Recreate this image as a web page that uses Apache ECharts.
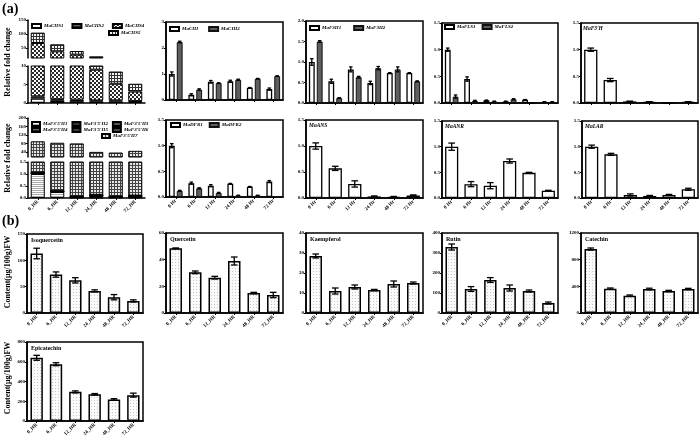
<!DOCTYPE html>
<html><head><meta charset="utf-8">
<script src="https://cdn.jsdelivr.net/npm/echarts@6/dist/echarts.min.js"></script>
<style>html,body{margin:0;padding:0;background:#fff}#c{width:700px;height:442px}</style>
</head><body><div id="c"></div>
<script>
// ---------- data ----------
const hoursUS = ['0_HR','6_HR','12_HR','24_HR','48_HR','72_HR'];
const hoursSp = ['0 Hr','6 Hr','12 Hr','24 Hr','48 Hr','72 Hr'];
// (a) CHS stacked (broken axis)
const chs1 = [1.2,0.7,0.5,0.4,0.4,0.3];
const chs2 = [0.6,0.3,0.4,0.3,0.3,0.2];
const chs4 = [66,37,25,8.3,4.5,2.6];
const chs5 = [37,25,13,11,3.3,2.1];
const chsUpperTicks = [50,100,150];
// (a) F3'5'H stacked (broken axis)
const f35h1 = [1.0,0.25,0.02,0.02,0.02,0.02];
const f35h2 = [0.02,0.01,0.01,0.07,0.01,0.04];
const f35h3 = [0.01,0.01,0.01,0.01,0.01,0.01];
const f35h4 = [0.01,0.01,0.01,0.01,0.01,0.01];
const f35h5 = [0.01,0.01,0.01,0.01,0.01,0.01];
const f35h6 = [0.01,0.01,0.01,0.01,0.01,0.01];
const f35h7 = [89,83,80,40,37,45];
const f35hUpperTicks = [40,80,120,160,200];
// (a) grouped
const chi = [1.0,0.2,0.7,0.72,0.47,0.42], chiErr = [0.08,0.04,0.05,0.04,0.01,0.04];
const chi2 = [2.23,0.4,0.65,0.78,0.82,0.92], chi2Err = [0.03,0.03,0.01,0.02,0.01,0.01];
const f3h1 = [1.0,0.53,0.82,0.49,0.73,0.73], f3h1Err = [0.08,0.05,0.06,0.04,0.01,0.01];
const f3h2 = [1.5,0.12,0.63,0.85,0.82,0.53], f3h2Err = [0.02,0.01,0.02,0.04,0.06,0.01];
const fls1 = [1.0,0.45,0.05,0.03,0.06,0.02], fls1Err = [0.03,0.04,0.005,0.005,0.005,0.005];
const fls2 = [0.12,0.04,0.03,0.07,0.005,0.02], fls2Err = [0.03,0.01,0.005,0.01,0.002,0.005];
const dfr1 = [1.0,0.27,0.22,0.26,0.2,0.3], dfr1Err = [0.04,0.02,0.02,0.005,0.005,0.02];
const dfr2 = [0.12,0.17,0.08,0.03,0.03,0.0], dfr2Err = [0.01,0.01,0.01,0.005,0.005,0];
// (a) single
const f3h = [1.0,0.43,0.03,0.02,0.005,0.02], f3hErr = [0.03,0.03,0.005,0.005,0.002,0.005];
const ans = [1.0,0.57,0.27,0.03,0.02,0.05], ansErr = [0.06,0.04,0.06,0.01,0.01,0.01];
const anr = [1.0,0.27,0.24,0.72,0.49,0.14], anrErr = [0.07,0.05,0.06,0.04,0.01,0.01];
const lar = [1.0,0.85,0.06,0.04,0.06,0.17], larErr = [0.03,0.02,0.02,0.01,0.01,0.02];
// (b) metabolites
const isoq = [113,73,62,42,30,23], isoqErr = [10,5,5,2,5,2];
const quer = [48.5,30.5,26.5,39,15,13.5], querErr = [0.3,1,1,3,0.5,2];
const kaem = [28.5,11,13,11.5,14.5,15], kaemErr = [1,1.5,1,0.3,1.5,0.5];
const rutin = [330,120,165,125,110,50], rutinErr = [15,12,12,15,5,5];
const catech = [960,365,260,360,330,360], catechErr = [15,10,10,12,10,10];
const epicat = [640,575,295,270,218,262], epicatErr = [25,15,10,8,8,20];

// ---------- patterns ----------
function pat(w,h,bg,fg,cells){const c=document.createElement('canvas');c.width=w;c.height=h;const x=c.getContext('2d');x.fillStyle=bg;x.fillRect(0,0,w,h);x.fillStyle=fg;cells.forEach(p=>x.fillRect(p[0],p[1],p[2]||1,p[3]||1));return {image:c,repeat:'repeat'};}
const checker = pat(4,4,'#fff','#2a2a2a',[[0,0,2,2],[2,2,2,2]]);
const gridPat = pat(3,3,'#f4f4f4','#333',[[0,0,3,1],[0,0,1,3]]);
const fineGrid = pat(3,3,'#e8e8e8','#444',[[0,0,3,1],[0,0,1,3]]);
const stripes = pat(2,2,'#666','#222',[[0,0,2,1]]);
const stipple = pat(3,3,'#fafafa','#c8c8c8',[[1,1]]);
const lightLines = pat(2,2,'#fff','#aaa',[[0,0,2,1]]);

const SERIF = '"Liberation Serif","DejaVu Serif",serif';
const grids=[], xAxes=[], yAxes=[], series=[], legends=[], graphics=[];

function addGrid(g, cats, opt){
  const i = grids.length;
  grids.push({left:g[0], top:g[1], width:g[2], height:g[3], show:!!opt.box, borderColor:'#000', borderWidth:1.5, containLabel:false});
  xAxes.push({type:'category', gridIndex:i, data:cats,
    axisLine:{show:opt.xline!==false, onZero:false, lineStyle:{color:'#000', width:1.5}},
    axisTick:{show:opt.xline!==false, alignWithLabel:true, length:2, lineStyle:{color:'#000', width:1}},
    axisLabel:{show:!!opt.xlabels, rotate:45, fontSize:5, fontWeight:'bold', fontFamily:SERIF, color:'#000', margin:3, interval:0}});
  const y = {type:'value', gridIndex:i, min:opt.min, max:opt.max,
    axisLine:{show:true, lineStyle:{color:'#000', width:1.5}},
    axisTick:{show:true, length:2, lineStyle:{color:'#000', width:1}},
    splitLine:{show:false},
    axisLabel:{fontSize:5, fontWeight:'bold', fontFamily:SERIF, color:'#000', margin:2, formatter:opt.fmt||(v=>String(v))}};
  if (opt.custom){ y.axisLabel.customValues = opt.custom; y.axisTick.customValues = opt.custom; }
  else y.interval = opt.interval;
  yAxes.push(y);
  return i;
}
function bar(gi, name, data, style, extra){
  return Object.assign({type:'bar', name:name, xAxisIndex:gi, yAxisIndex:gi, data:data, itemStyle:style, animation:false}, extra||{});
}
function err(gi, vals, errs, off, cap){
  return {type:'custom', xAxisIndex:gi, yAxisIndex:gi, z:10, silent:true, animation:false, encode:{x:0,y:1},
    data: vals.map((v,i)=>[i,v,errs[i]]),
    renderItem:function(params, api){
      const i=api.value(0), v=api.value(1), e=api.value(2);
      if(!(e>0)) return null;
      const band=api.size([1,0])[0];
      const cx=api.coord([i,v])[0]+off*band;
      const y1=api.coord([i,v+e])[1], y2=api.coord([i,v-e])[1];
      const hw=band*cap, st={stroke:'#000', lineWidth:1.3};
      return {type:'group', children:[
        {type:'line', shape:{x1:cx,y1:y1,x2:cx,y2:y2}, style:st},
        {type:'line', shape:{x1:cx-hw,y1:y1,x2:cx+hw,y2:y1}, style:st},
        {type:'line', shape:{x1:cx-hw,y1:y2,x2:cx+hw,y2:y2}, style:st}]};
    }};
}
const f1 = v=>v.toFixed(1);
const whiteS = {color:'#fff', borderColor:'#000', borderWidth:1.3};
const darkS = {color:'#5e5e5e', borderColor:'#111', borderWidth:1};
const lightS = {color:stipple, borderColor:'#000', borderWidth:1.5};

// ---------- (a) row 1 ----------
const gCu = addGrid([28,20,117,38], hoursUS, {min:14, max:150, custom:chsUpperTicks, xline:false});
const gCl = addGrid([28,66,117,37], hoursUS, {min:0, max:10, interval:5});
const chsStyles = [whiteS, {color:stripes, borderColor:'#000', borderWidth:1}, {color:checker, borderColor:'#000', borderWidth:1}, {color:gridPat, borderColor:'#000', borderWidth:1}];
const chsNames = ['MaCHS1','MaCHS2','MaCHS4','MaCHS5'];
[chs1,chs2,chs4,chs5].forEach((d,k)=>{
  [gCu,gCl].forEach(g=>series.push(bar(g, chsNames[k], d, chsStyles[k], {stack:'s'+g, barWidth:'72%'})));
});
const gChi = addGrid([166,22,117,78], hoursSp, {min:0, max:3, interval:1, box:true});
series.push(bar(gChi,'MaCHI',chi,whiteS,{barWidth:'30%',barGap:'35%'}), bar(gChi,'MaCHI2',chi2,darkS,{barWidth:'30%',barGap:'35%'}),
  err(gChi,chi,chiErr,-0.2025,0.09), err(gChi,chi2,chi2Err,0.2025,0.09));
const gF3h = addGrid([306,21,117,82], hoursSp, {min:0, max:2, interval:0.5, box:true, fmt:f1});
series.push(bar(gF3h,'MaF3H1',f3h1,whiteS,{barWidth:'30%',barGap:'35%'}), bar(gF3h,'MaF3H2',f3h2,darkS,{barWidth:'30%',barGap:'35%'}),
  err(gF3h,f3h1,f3h1Err,-0.2025,0.09), err(gF3h,f3h2,f3h2Err,0.2025,0.09));
const gFls = addGrid([442,23,116,80], hoursSp, {min:0, max:1.5, interval:0.5, box:true, fmt:f1});
series.push(bar(gFls,'MaFLS1',fls1,whiteS,{barWidth:'30%',barGap:'35%'}), bar(gFls,'MaFLS2',fls2,darkS,{barWidth:'30%',barGap:'35%'}),
  err(gFls,fls1,fls1Err,-0.2025,0.09), err(gFls,fls2,fls2Err,0.2025,0.09));
const gF3ph = addGrid([581,23,117,80], hoursSp, {min:0, max:1.5, interval:0.5, box:true, fmt:f1});
series.push(bar(gF3ph,"MaF3'H",f3h,whiteS,{barWidth:'68%'}), err(gF3ph,f3h,f3hErr,0,0.17));

// ---------- (a) row 2 ----------
const gHu = addGrid([28,118,117,39], hoursUS, {min:16, max:200, custom:f35hUpperTicks, xline:false});
const gHl = addGrid([28,162,117,36], hoursUS, {min:0, max:1.5, interval:0.5, fmt:f1, xlabels:true});
const hNames = ["MaF3'5'H1","MaF3'5'H2","MaF3'5'H3","MaF3'5'H4","MaF3'5'H5","MaF3'5'H6","MaF3'5'H7"];
const hStyles = [{color:lightLines,borderColor:'#000',borderWidth:1},{color:'#333',borderColor:'#000',borderWidth:1},{color:'#555',borderColor:'#000',borderWidth:1},
  {color:stripes,borderColor:'#000',borderWidth:1},{color:'#3a3a3a',borderColor:'#000',borderWidth:1},{color:'#4a4a4a',borderColor:'#000',borderWidth:1},{color:fineGrid,borderColor:'#000',borderWidth:1}];
[f35h1,f35h2,f35h3,f35h4,f35h5,f35h6,f35h7].forEach((d,k)=>{
  [gHu,gHl].forEach(g=>series.push(bar(g, hNames[k], d, hStyles[k], {stack:'h'+g, barWidth:'72%'})));
});
const gDfr = addGrid([166,120,117,77], hoursSp, {min:0, max:1.5, interval:0.5, box:true, fmt:f1, xlabels:true});
series.push(bar(gDfr,'MaDFR1',dfr1,whiteS,{barWidth:'30%',barGap:'35%'}), bar(gDfr,'MaDFR2',dfr2,darkS,{barWidth:'30%',barGap:'35%'}),
  err(gDfr,dfr1,dfr1Err,-0.2025,0.09), err(gDfr,dfr2,dfr2Err,0.2025,0.09));
const gAns = addGrid([306,120,117,78], hoursSp, {min:0, max:1.5, interval:0.5, box:true, fmt:f1, xlabels:true});
series.push(bar(gAns,'MaANS',ans,whiteS,{barWidth:'68%'}), err(gAns,ans,ansErr,0,0.17));
const gAnr = addGrid([442,121,116,77], hoursSp, {min:0, max:1.5, interval:0.5, box:true, fmt:f1, xlabels:true});
series.push(bar(gAnr,'MaANR',anr,whiteS,{barWidth:'68%'}), err(gAnr,anr,anrErr,0,0.17));
const gLar = addGrid([582,121,116,77], hoursSp, {min:0, max:1.5, interval:0.5, box:true, fmt:f1, xlabels:true});
series.push(bar(gLar,'MaLAR',lar,whiteS,{barWidth:'68%'}), err(gLar,lar,larErr,0,0.17));

// ---------- (b) ----------
const bPanels = [
  [[27,234,116,79], isoq, isoqErr, 150, 50, 'Isoquercetin'],
  [[166,233,117,80], quer, querErr, 60, 20, 'Quercetin'],
  [[306,233,117,80], kaem, kaemErr, 40, 10, 'Kaempferol'],
  [[442,233,116,80], rutin, rutinErr, 400, 100, 'Rutin'],
  [[581,233,117,80], catech, catechErr, 1200, 400, 'Catechin'],
  [[27,342,116,79], epicat, epicatErr, 800, 200, 'Epicatechin']];
bPanels.forEach(p=>{
  const g = addGrid(p[0], hoursUS, {min:0, max:p[3], interval:p[4], box:true, xlabels:true});
  series.push(bar(g, p[5], p[1], lightS, {barWidth:'64%'}), err(g, p[1], p[2], 0, 0.17));
  graphics.push({type:'text', left:p[0][0]+4, top:p[0][1]+3, style:{text:p[5], font:'bold 6px '+SERIF, fill:'#000'}});
});

// ---------- legends ----------
const legText = {fontSize:5, fontStyle:'italic', fontWeight:'bold', fontFamily:SERIF, color:'#000', padding:[0,0,0,-2]};
function leg(names, left, top, gap, iw){
  legends.push({data:names, left:left, top:top, itemWidth:iw||9, itemHeight:4, itemGap:gap, icon:'rect', selectedMode:false,
    orient:'horizontal', padding:0, width:400, textStyle:legText});
}
leg(['MaCHS1','MaCHS2','MaCHS4'], 31, 23, 8);
leg(['MaCHS5'], 108, 30, 8);
leg(["MaF3'5'H1","MaF3'5'H2","MaF3'5'H3"], 31, 121, 4, 8);
leg(["MaF3'5'H4","MaF3'5'H5","MaF3'5'H6"], 31, 127, 4, 8);
leg(["MaF3'5'H7"], 101, 133, 4, 8);
leg(['MaCHI','MaCHI2'], 169, 26, 10);
leg(['MaF3H1','MaF3H2'], 309, 25, 12);
leg(['MaFLS1','MaFLS2'], 444, 24, 6);
leg(['MaDFR1','MaDFR2'], 170, 122, 6);

// ---------- texts ----------
const gtitle = (t,x,y)=>graphics.push({type:'text', left:x, top:y, style:{text:t, font:'italic bold 5.5px '+SERIF, fill:'#000'}});
gtitle("MaF3'H", 583, 26); gtitle('MaANS', 309, 123); gtitle('MaANR', 445, 124); gtitle('MaLAR', 585, 124);
graphics.push({type:'text', left:2, top:2, style:{text:'(a)', font:'bold 14px '+SERIF, fill:'#000'}});
graphics.push({type:'text', left:2, top:214, style:{text:'(b)', font:'bold 14px '+SERIF, fill:'#000'}});
function vtitle(t, x, y){
  graphics.push({type:'text', x:x, y:y, rotation:Math.PI/2, style:{text:t, font:'bold 8px '+SERIF, fill:'#000', align:'center', verticalAlign:'middle'}});
}
vtitle('Relative fold change', 8, 62);
vtitle('Relative fold change', 8, 158);
vtitle('Content(μg/100g)FW', 8, 272);
vtitle('Content(μg/100g)FW', 8, 378);

const chart = echarts.init(document.getElementById('c'), null, {renderer:'canvas'});
chart.setOption({animation:false, backgroundColor:'#fff', grid:grids, xAxis:xAxes, yAxis:yAxes, series:series, legend:legends, graphic:graphics});
</script></body></html>
